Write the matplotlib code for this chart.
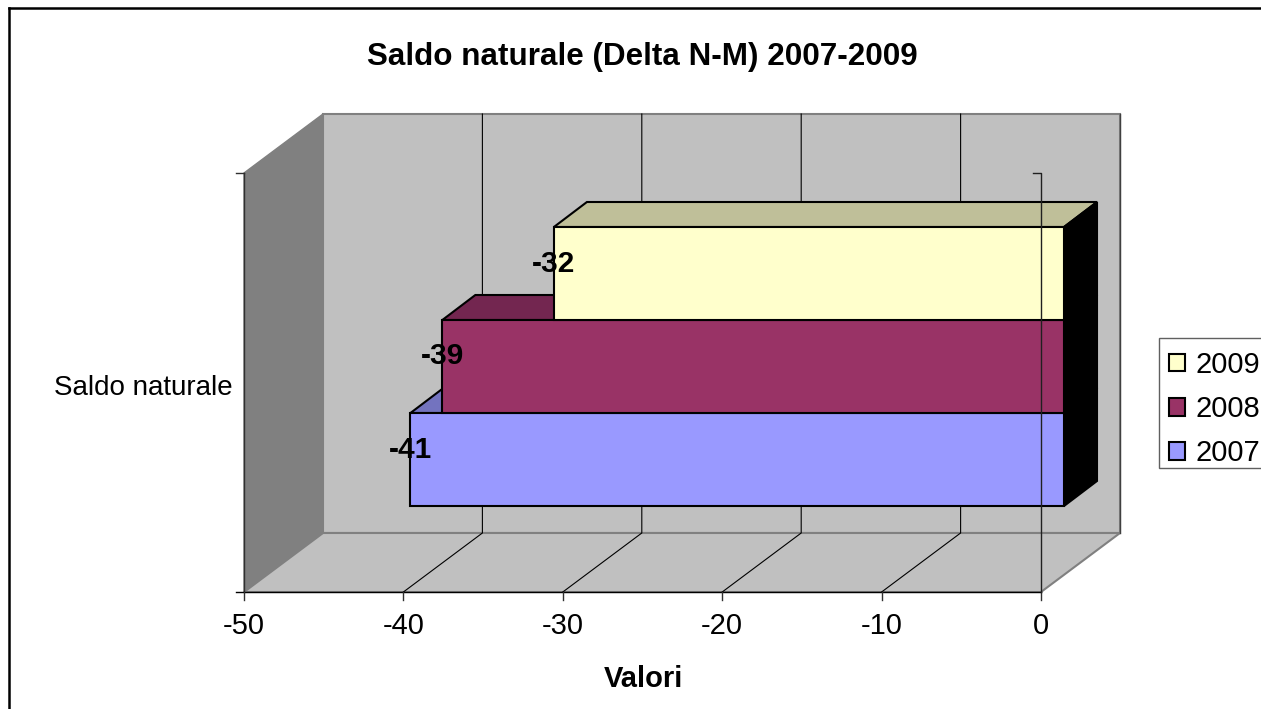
#!/usr/bin/env python3
"""Saldo naturale 2007-2009, old Excel style 3D bar chart"""

import matplotlib
matplotlib.use('Agg')
import matplotlib.pyplot as plt
from matplotlib.patches import Polygon, Rectangle

# Data
years = ['2007', '2008', '2009']
saldo = [-41, -39, -32]
axis_ticks = [-50, -40, -30, -20, -10, 0]
category = 'Saldo naturale'

plt.rcParams['font.family'] = ['Liberation Sans', 'DejaVu Sans']

# Colors
COLORS = {
    'wall': '#c0c0c0',
    'side_wall': '#808080',
    'edge': '#808080',
}
FRONT = ['#9999ff', '#993366', '#ffffcc']
TOP = ['#7373bf', '#732650', '#bfbf99']

# Layout in pixels
PX_PER_UNIT = 797 / 50
ZERO_X = 1041
DEPTH_X, DEPTH_Y = 79, -59
FLOOR_Y, AXIS_TOP = 592, 173
BAR_SHIFT = 23
BAR_DX, BAR_DY = 33, -25
BAR_BOTTOM, BAR_H = 506, 93


def px(v):
    # pixel distance back to axis units
    return v / PX_PER_UNIT


fig = plt.figure(figsize=(12.61, 7.09), dpi=100, facecolor='white')
ax = fig.add_axes([0, 0, 1, 1])
ax.set_xlim(px(-ZERO_X), px(1261 - ZERO_X))
ax.set_ylim(709, 0)
ax.axis('off')

x0, x1 = axis_ticks[0], axis_ticks[-1]
dx, dy = px(DEPTH_X), DEPTH_Y

# Walls and floor
ax.add_patch(Polygon([(x0, AXIS_TOP), (x0 + dx, AXIS_TOP + dy), (x0 + dx, FLOOR_Y + dy), (x0, FLOOR_Y)],
                     facecolor=COLORS['side_wall'], edgecolor=COLORS['edge'], lw=1, zorder=1))
ax.add_patch(Polygon([(x0 + dx, AXIS_TOP + dy), (x1 + dx, AXIS_TOP + dy), (x1 + dx, FLOOR_Y + dy), (x0 + dx, FLOOR_Y + dy)],
                     facecolor=COLORS['wall'], edgecolor=COLORS['edge'], lw=1.5, zorder=1))
ax.add_patch(Polygon([(x0, FLOOR_Y), (x0 + dx, FLOOR_Y + dy), (x1 + dx, FLOOR_Y + dy), (x1, FLOOR_Y)],
                     facecolor=COLORS['wall'], edgecolor=COLORS['edge'], lw=1.5, zorder=1))
ax.plot([x1 + dx, x1 + dx], [AXIS_TOP + dy, FLOOR_Y + dy], color='#404040', lw=1, zorder=2)

# Gridlines
for t in axis_ticks[1:-1]:
    ax.plot([t, t + dx, t + dx], [FLOOR_Y, FLOOR_Y + dy, AXIS_TOP + dy], color='black', lw=0.8, zorder=2)

# Axis lines and ticks
ax.plot([x0, x0], [AXIS_TOP, FLOOR_Y], color='#303030', lw=1, zorder=2)
ax.plot([x0 - px(8), x1], [FLOOR_Y, FLOOR_Y], color='black', lw=1, zorder=2)
ax.plot([x0 - px(8), x0], [AXIS_TOP, AXIS_TOP], color='#303030', lw=1, zorder=2)
for t in axis_ticks:
    ax.plot([t, t], [FLOOR_Y, FLOOR_Y + 8], color='#303030', lw=1, zorder=2)
    ax.text(t, 626, str(t), fontsize=21, ha='center', va='center', color='black')

# Bars: top and side faces first, then the front
handles = []
shift = px(BAR_SHIFT)
bdx = px(BAR_DX)
for i, (year, val) in enumerate(zip(years, saldo)):
    bottom = BAR_BOTTOM - i * BAR_H
    top = bottom - BAR_H
    z = 3 + i
    ax.add_patch(Polygon([(val + shift, top), (val + shift + bdx, top + BAR_DY),
                          (shift + bdx, top + BAR_DY), (shift, top)],
                         facecolor=TOP[i], edgecolor='black', lw=1.5, zorder=z))
    ax.add_patch(Polygon([(shift, top), (shift + bdx, top + BAR_DY),
                          (shift + bdx, bottom + BAR_DY), (shift, bottom)],
                         facecolor='black', edgecolor='black', lw=1.5, zorder=z))
    bars = ax.barh(bottom - BAR_H / 2, val, height=BAR_H, left=shift, color=FRONT[i],
                   edgecolor='black', linewidth=1.5, zorder=z + 0.5, label=year)
    handles.append(bars)
    ax.text(val + shift, bottom - BAR_H / 2 - 10, str(val), fontsize=21.5, fontweight='bold',
            ha='center', va='center', color='black', zorder=10)

# Zero axis runs over the bars
ax.plot([x1 - px(8), x1, x1], [AXIS_TOP, AXIS_TOP, FLOOR_Y], color='#202020', lw=1, zorder=8)

# Texts
ax.text(px(642.5 - ZERO_X), 57, 'Saldo naturale (Delta N-M) 2007-2009', fontsize=22.6,
        fontweight='bold', ha='center', va='center')
ax.text(px(233 - ZERO_X), 388, category, fontsize=20, ha='right', va='center')
ax.text(px(643 - ZERO_X), 679, 'Valori', fontsize=21, fontweight='bold', ha='center', va='center')

# Legend box drawn apart, its padding differs between x and y
ax.add_patch(Rectangle((px(1159 - ZERO_X), 338), px(110), 130, facecolor='white',
                       edgecolor='#606060', lw=1, zorder=11))
leg = ax.legend(handles[::-1], years[::-1], loc='upper left',
                bbox_to_anchor=(1169 / 1261, 1 - 351 / 709), borderaxespad=0,
                fontsize=21, frameon=False,
                handlelength=0.55, handleheight=0.55, handletextpad=0.35,
                labelspacing=0.55, borderpad=0)
leg.set_zorder(12)

# Outer chart border (only top and left fall inside the picture)
ax.plot([px(9 - ZERO_X), px(9 - ZERO_X)], [709, 8], color='black', lw=1.8, zorder=1, solid_capstyle='projecting')
ax.plot([px(9 - ZERO_X), px(1261 - ZERO_X)], [8, 8], color='black', lw=1.8, zorder=1)

fig.savefig('out.png', dpi=100, facecolor='white')
